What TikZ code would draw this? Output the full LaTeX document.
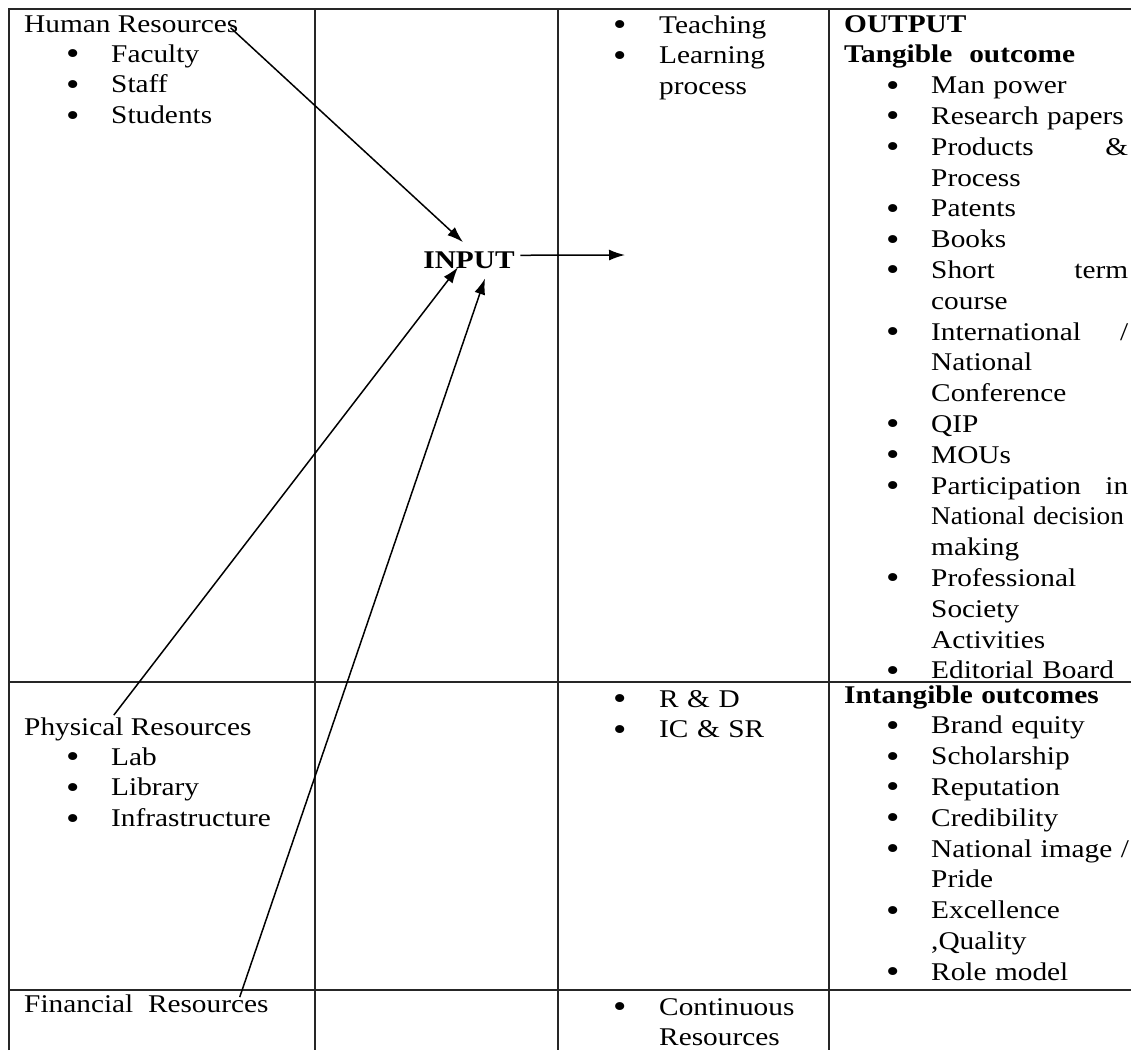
\documentclass[tikz,border=0pt]{standalone}
\usepackage{fontspec}
\setmainfont[FakeStretch=1.15]{Liberation Serif}
\usepackage{graphicx}
\usepackage{tikz}
\usetikzlibrary{arrows.meta,positioning}
\tikzstyle{head} = [anchor=base west, inner sep=0pt, font=\fontsize{25.5}{30.8}\selectfont]
\tikzstyle{cell} = [anchor=base west, inner sep=0pt, align=left, text width=300pt, font=\fontsize{25.5}{30.8}\selectfont]
\tikzstyle{rule} = [draw, line width=1.8pt, black!85]
\tikzstyle{line} = [draw, line width=1.5pt, -{Latex[length=16pt,width=11pt]}]

\newcommand{\bigdot}{\raisebox{-2.5pt}{\scalebox{1.3}{\textbullet}}}
\newcommand{\li}[1]{\hspace*{42pt}\makebox[45pt][l]{\bigdot}#1}
\newcommand{\lc}[1]{\hspace*{87pt}#1}
\newcommand{\lj}[2]{\hbox to 197pt{#1\hfill#2}}
\newcommand{\ri}[1]{\hspace*{-2pt}\makebox[46pt][l]{\bigdot}#1}

\begin{document}
\begin{tikzpicture}[x=1pt, y=-1pt]
    \useasboundingbox (0,0) rectangle (1131,1050);

    % table
    \draw[rule] (9,1050) -- (9,9) -- (1131,9);
    \draw[rule] (9,682) -- (1131,682);
    \draw[rule] (9,990) -- (1131,990);
    \foreach \x in {315,558,829}
        \draw[rule] (\x,9) -- (\x,1050);

    % resources
    \node[head] (human) at (24,32) {Human Resources};
    \node[cell] (humanlist) at (24,62) {\li{Faculty}\\ \li{Staff}\\ \li{Students}};
    \node[head] (physical) at (24,735) {Physical Resources};
    \node[cell] (physicallist) at (24,765) {\li{Lab}\\ \li{Library}\\ \li{Infrastructure}};
    \node[head] (financial) at (24,1012) {Financial\ \ Resources};

    \node[head, anchor=base, font=\fontsize{25.5}{30.8}\selectfont\bfseries] (input) at (469,268) {INPUT};

    % process
    \node[cell] (teaching) at (615,33) {\ri{Teaching}\\ \ri{Learning}\\ \hspace*{44pt}process};
    \node[cell] (research) at (615,707) {\ri{R \& D}\\ \ri{IC \& SR}};
    \node[cell] (continuous) at (615,1015) {\ri{Continuous}\\ \hspace*{44pt}Resources};

    % output
    \node[cell] (tangible) at (844,32) {\textbf{OUTPUT}\\ \textbf{Tangible\ \ outcome}\\
        \li{Man power}\\ \li{Research papers}\\ \li{\lj{Products}{\&}}\\ \lc{Process}\\
        \li{Patents}\\ \li{Books}\\ \li{\lj{Short}{term}}\\ \lc{course}\\
        \li{\lj{International}{/}}\\ \lc{National}\\ \lc{Conference}\\ \li{QIP}\\ \li{MOUs}\\
        \li{\lj{Participation}{in}}\\ \lc{\scalebox{0.93}[1]{National decision}}\\ \lc{making}\\
        \li{Professional}\\ \lc{Society}\\ \lc{Activities}\\ \li{Editorial Board}};
    \node[cell] (intangible) at (844,703) {\textbf{Intangible outcomes}\\
        \li{Brand equity}\\ \li{Scholarship}\\ \li{Reputation}\\ \li{Credibility}\\
        \li{National image /}\\ \lc{Pride}\\ \li{Excellence}\\ \lc{,Quality}\\ \li{Role model}};

    % arrows
    \coordinate (learnIn) at (625,255);
    \path [line] ([xshift=-8pt,yshift=-4pt]human.east) -- ([xshift=-6pt,yshift=9pt]input.north);
    \path [line] ([xshift=-24pt,yshift=2pt]physical.north) -- ([xshift=-11pt,yshift=-7.5pt]input.center);
    \path [line] ([xshift=-29pt,yshift=-3pt]financial.north east) -- ([xshift=16pt,yshift=-10pt]input.south);
    \path [line] ([xshift=5.5pt,yshift=4.5pt]input.east) -- (learnIn);
\end{tikzpicture}
\end{document}
